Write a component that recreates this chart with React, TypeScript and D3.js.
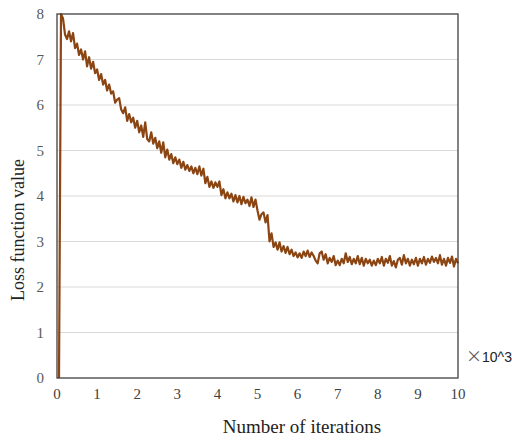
import React from "react";
import * as d3 from "d3";

const ITER_STEP = 0.05; // thousands of iterations between recorded points
const lossValues: number[] = [
  0, 8.0, 7.9, 7.55, 7.45, 7.62, 7.4, 7.58, 7.25, 7.35,
  7.1, 7.22, 7.0, 7.18, 6.85, 7.05, 6.8, 6.95, 6.7, 6.78,
  6.55, 6.68, 6.45, 6.55, 6.32, 6.45, 6.25, 6.3, 6.05, 6.12,
  6.15, 5.9, 5.82, 5.95, 5.65, 5.8, 5.62, 5.72, 5.5, 5.65,
  5.4, 5.55, 5.3, 5.62, 5.25, 5.2, 5.4, 5.15, 5.28, 5.05,
  5.2, 4.95, 5.18, 4.85, 5.02, 4.8, 4.92, 4.72, 4.85, 4.7,
  4.8, 4.62, 4.75, 4.58, 4.68, 4.55, 4.65, 4.5, 4.62, 4.48,
  4.65, 4.45, 4.6, 4.28, 4.42, 4.2, 4.32, 4.18, 4.3, 4.2,
  4.32, 4.02, 4.15, 3.95, 4.08, 3.95, 4.05, 3.88, 4.02, 3.86,
  4.0, 3.82, 3.98, 3.84, 3.92, 3.78, 3.97, 3.76, 3.92, 3.68,
  3.48, 3.6, 3.64, 3.42, 3.58, 3.0, 3.18, 2.88, 2.98, 2.82,
  2.98, 2.78, 2.9, 2.75, 2.88, 2.72, 2.82, 2.68, 2.76, 2.65,
  2.74, 2.64, 2.78, 2.68, 2.8, 2.66, 2.76, 2.68, 2.58, 2.52,
  2.74, 2.78, 2.6, 2.72, 2.52, 2.64, 2.55, 2.68, 2.48, 2.58,
  2.48, 2.62, 2.52, 2.74, 2.55, 2.66, 2.5, 2.62, 2.52, 2.68,
  2.5, 2.64, 2.47, 2.62, 2.52, 2.6, 2.47, 2.58, 2.48, 2.62,
  2.52, 2.66, 2.47, 2.62, 2.53, 2.68, 2.47, 2.57, 2.43, 2.6,
  2.64, 2.49, 2.7, 2.52, 2.62, 2.47, 2.6, 2.5, 2.64, 2.47,
  2.62, 2.52, 2.66, 2.49, 2.62, 2.53, 2.67, 2.55, 2.64, 2.52,
  2.7, 2.49, 2.62, 2.47, 2.64, 2.53, 2.67, 2.45, 2.62, 2.52,
];
const xTicks: number[] = [0, 1, 2, 3, 4, 5, 6, 7, 8, 9, 10];
const yTicks: number[] = [0, 1, 2, 3, 4, 5, 6, 7, 8];
const xLabel = "Number of iterations";
const yLabel = "Loss function value";
const unitLabel = "10^3";

const W = 512, H = 440;
const L = 57, T = 14, R = 458, B = 378;
const SERIF = "Liberation Serif, Times New Roman, serif";

export default function App() {
  const x = d3.scaleLinear().domain([0, 10]).range([L, R]);
  const y = d3.scaleLinear().domain([0, 8]).range([B, T]);
  const pts: [number, number][] = lossValues.map((v, i) => [(i + 1) * ITER_STEP, v]);
  const line = d3.line<[number, number]>().x((d) => x(d[0])).y((d) => y(d[1]));
  return (
    <svg width={W} height={H} style={{ position: "absolute", left: 0, top: 0, background: "#fff" }}>
      {yTicks.filter((t) => t > 0 && t < 8).map((t) => (
        <line key={t} x1={L} x2={R} y1={y(t)} y2={y(t)} stroke="#d9d9d9" strokeWidth={1} />
      ))}
      <path d={line(pts) || ""} fill="none" stroke="#8B4513" strokeWidth={2.2} strokeLinejoin="round" />
      <rect x={L} y={T} width={R - L} height={B - T} fill="none" stroke="#404040" strokeWidth={1.3} />
      {yTicks.map((t) => (
        <text key={t} x={44} y={y(t) + 5} textAnchor="end" fontFamily={SERIF} fontSize={15} fill="#595959">
          {t}
        </text>
      ))}
      {xTicks.map((t) => (
        <text key={t} x={x(t)} y={399} textAnchor="middle" fontFamily={SERIF} fontSize={15} fill="#404040">
          {t}
        </text>
      ))}
      <text x={466} y={362} fontFamily="Liberation Sans, Arial, sans-serif" fontSize={14} fill="#222">
        <tspan fontFamily="Noto Sans CJK SC, sans-serif" fontSize={16} fill="#595959">×</tspan>
        <tspan>{unitLabel}</tspan>
      </text>
      <text x={302} y={433} textAnchor="middle" fontFamily={SERIF} fontSize={19} fill="#222">
        {xLabel}
      </text>
      <text transform={`translate(24,230) rotate(-90)`} textAnchor="middle" fontFamily={SERIF} fontSize={18} fill="#222">
        {yLabel}
      </text>
    </svg>
  );
}
